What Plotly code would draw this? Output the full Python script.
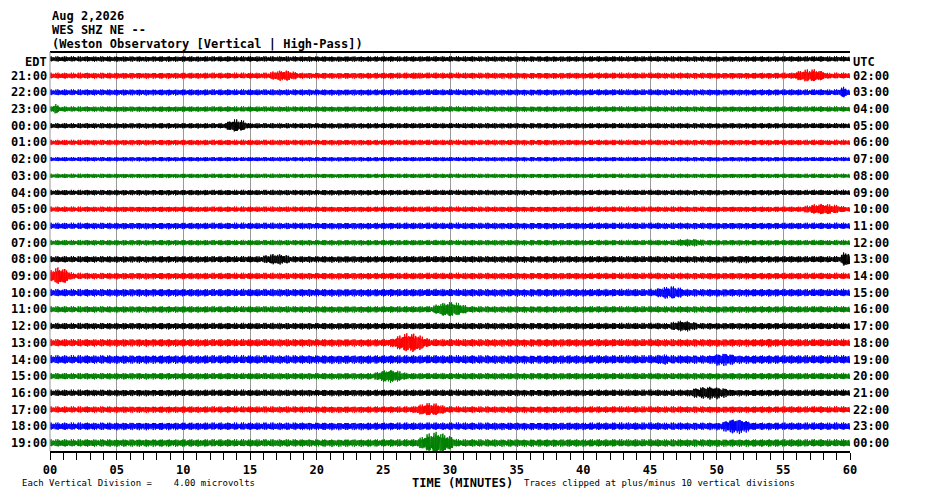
import numpy as np
import plotly.graph_objects as go

left_labels = ["EDT"] + [f"{(21+i)%24:02d}:00" for i in range(23)]
right_labels = ["UTC"] + [f"{(2+i)%24:02d}:00" for i in range(23)]
colors = ["black", "red", "blue", "green"]
# base half-amplitude (px) per row
base_amp = [2.5,2.8,2.8,2.5,2.5,2.5,2.0,2.0,2.5,2.5,3.0,2.5,3.0,3.0,3.5,3.0,3.0,3.5,4.0,3.0,3.0,3.0,3.5,3.5]
# events per row: (center minute, half-width minutes, peak half-amplitude px)
events = [
    [], [(17.5,1.5,5),(57,1.5,6),(27.5,0.5,3.5)], [(59.5,0.5,5)], [(0.4,0.3,5)],
    [(14,1.0,6)], [], [], [], [], [(58,2,5)], [], [(48,2,3.5)],
    [(17,1.5,5),(59.7,0.5,7),(52,1.5,3.5)], [(0.7,1,8)], [(46.5,1.5,6)], [(30,1.5,7)],
    [(47.5,1.5,5)], [(27,1.5,9),(54,1,4)], [(46,1,5),(50.5,1.5,6)], [(25.5,1.5,6),(42,1,3)],
    [(49.5,2,6)], [(28.5,1.5,6)], [(51.5,1.5,7)], [(29,1.5,10)],
]
PX_PER_ROW = 16.7

fig = go.Figure()
t = np.arange(0, 60.0001, 0.02)
idx = np.arange(t.size)
sgn = np.where(idx % 2 == 0, 1.0, -1.0)
texture = 0.5 + 0.5 * np.abs(np.sin(idx * 0.37) * np.cos(idx * 0.113) + 0.3 * np.sin(idx * 1.91))
for r in range(24):
    env = np.full(t.shape, base_amp[r])
    for c, w, p in events[r]:
        env = np.maximum(env, p * np.exp(-((t - c) / w) ** 2))
    y = -r + sgn * env * texture / PX_PER_ROW
    fig.add_trace(go.Scatter(x=t, y=y, mode="lines", line=dict(color=colors[r % 4], width=1), hoverinfo="skip"))

font = dict(family="DejaVu Sans Mono", size=12, color="black", weight="bold")
ann = []
for r in range(24):
    yy = -r - (0.2 if r == 0 else 0)
    ann.append(dict(x=0, xref="paper", y=yy, yref="y", text=left_labels[r], showarrow=False, xanchor="right", xshift=-1, font=font))
    ann.append(dict(x=1, xref="paper", y=yy, yref="y", text=right_labels[r], showarrow=False, xanchor="left", xshift=1, font=font))
for i, s in enumerate(["Aug 2,2026", "WES SHZ NE --", "(Weston Observatory [Vertical | High-Pass])"]):
    ann.append(dict(x=0, xref="paper", y=1, yref="paper", yshift=36 - i * 14, text=s, showarrow=False, xanchor="left", yanchor="middle", font=font))
small = dict(family="DejaVu Sans Mono", size=9, color="black")
ann.append(dict(x=-0.0375, xref="paper", y=0, yref="paper", yshift=-32, text="Each Vertical Division =    4.00 microvolts", showarrow=False, xanchor="left", yanchor="middle", font=small))
ann.append(dict(x=0.516, xref="paper", y=0, yref="paper", yshift=-32, text="TIME (MINUTES)", showarrow=False, xanchor="center", yanchor="middle", font=font))
ann.append(dict(x=0.59, xref="paper", y=0, yref="paper", yshift=-32, text="Traces clipped at plus/minus 10 vertical divisions", showarrow=False, xanchor="left", yanchor="middle", font=small))

fig.update_layout(
    width=922, height=486, margin=dict(l=42, r=80, t=44, b=43),
    plot_bgcolor="white", paper_bgcolor="white", showlegend=False,
    annotations=ann,
    xaxis=dict(range=[0, 60], tickvals=list(range(0, 61, 5)), ticktext=[f"{v:02d}" for v in range(0, 61, 5)],
               ticks="outside", ticklen=7, tickcolor="black", showgrid=True, gridcolor="#999999", gridwidth=1,
               showline=True, linecolor="black", linewidth=2, mirror=False, zeroline=False, automargin=False,
               tickfont=font, minor=dict(dtick=1, ticks="outside", ticklen=7, tickcolor="black", showgrid=False)),
    yaxis=dict(range=[-23.48, 0.42], showticklabels=False, showgrid=False, zeroline=False, ticks="", automargin=False),
    shapes=[dict(type="line", xref="paper", yref="paper", x0=0, x1=1, y0=1, y1=1, line=dict(color="black", width=2)),
            dict(type="line", xref="paper", yref="paper", x0=0, x1=0, y0=0, y1=1, line=dict(color="#999999", width=1))],
)
fig.write_html("out.html")
